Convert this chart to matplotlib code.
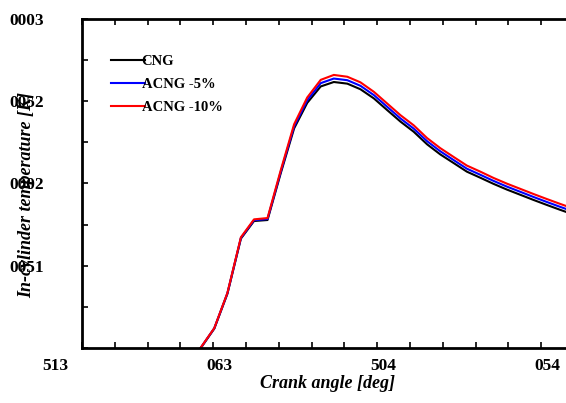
import matplotlib
matplotlib.use("Agg")
import matplotlib.pyplot as plt
from matplotlib.transforms import ScaledTranslation
from matplotlib.ticker import MultipleLocator

# ---- data ----
crank_angle = [340.3, 344.0, 347.6, 351.3, 354.9, 358.6, 362.2, 365.9, 369.5,
               373.2, 376.8, 380.5, 384.1, 387.8, 391.4, 395.1, 398.7, 402.4,
               406.0, 409.7, 413.3, 417.0, 420.6, 424.3, 427.9, 431.6, 435.2,
               438.9, 442.5, 446.2, 449.8]
temp_cng = [820, 900, 1000, 1118, 1330, 1665, 1772, 1778, 2060, 2335, 2490,
            2590, 2617, 2607, 2573, 2517, 2447, 2376, 2315, 2238, 2177, 2124,
            2072, 2035, 1998, 1963, 1932, 1900, 1870, 1840, 1812]
temp_acng5 = [820, 901, 1002, 1120, 1333, 1669, 1777, 1784, 2069, 2347, 2506,
              2610, 2638, 2628, 2594, 2537, 2467, 2395, 2334, 2257, 2196, 2142,
              2090, 2053, 2016, 1981, 1950, 1918, 1888, 1858, 1830]
temp_acng10 = [821, 902, 1003, 1121, 1335, 1673, 1782, 1790, 2078, 2360, 2523,
               2630, 2660, 2649, 2615, 2557, 2487, 2415, 2354, 2276, 2215, 2161,
               2109, 2072, 2034, 1999, 1968, 1936, 1906, 1876, 1848]
series_labels = ["CNG", "ACNG -5%", "ACNG -10%"]
series_colors = ["black", "blue", "red"]

x_ticks = [315, 360, 405, 450]
x_tick_labels = ["513", "063", "504", "054"]
y_ticks = [1000, 1500, 2000, 2500, 3000]
y_tick_labels = ["", "0051", "0002", "0052", "0003"]

# ---- figure ----
W, H = 566, 403
fig = plt.figure(figsize=(W / 100, H / 100), dpi=100)
ax_left, ax_right, ax_top, ax_bottom = 82, 574, 19, 348
ax = fig.add_axes([ax_left / W, (H - ax_bottom) / H,
                   (ax_right - ax_left) / W, (ax_bottom - ax_top) / H])

serif = ["Liberation Serif", "DejaVu Serif"]

for ys, lab, col in zip([temp_cng, temp_acng5, temp_acng10], series_labels, series_colors):
    ax.plot(crank_angle, ys, color=col, lw=1.5, label=lab)

ax.set_xlim(315, 450)
ax.set_ylim(1000, 3000)

ax.set_xticks(x_ticks)
ax.set_xticklabels(x_tick_labels, fontfamily=serif, fontweight="bold", fontsize=12.5)
ax.set_yticks(y_ticks)
ax.set_yticklabels(y_tick_labels, fontfamily=serif, fontweight="bold", fontsize=12.5)
ax.xaxis.set_minor_locator(MultipleLocator(9))
ax.yaxis.set_minor_locator(MultipleLocator(250))

ax.tick_params(which="both", direction="in", top=True, right=True, width=1.2)
ax.tick_params(which="major", length=4)
ax.tick_params(which="minor", length=4)
ax.tick_params(axis="x", pad=7)
ax.tick_params(axis="y", pad=27.5)

for s in ax.spines.values():
    s.set_linewidth(2)

# shift x tick labels left as in reference
for lbl in ax.get_xticklabels():
    lbl.set_transform(lbl.get_transform() + ScaledTranslation(-27 / 100, 0, fig.dpi_scale_trans))

ax.set_xlabel("Crank angle [deg]", fontfamily=serif, fontweight="bold",
              fontstyle="italic", fontsize=13)
ax.xaxis.set_label_coords(0.498, -0.082)
ax.set_ylabel("In-cylinder temperature [K]", fontfamily=serif, fontweight="bold",
              fontstyle="italic", fontsize=13)
ax.yaxis.set_label_coords(-0.095, 0.465)

leg = ax.legend(loc="upper left", bbox_to_anchor=((111 - 82) / 492, (348 - 55) / 329),
                frameon=False, borderpad=0, borderaxespad=0, handlelength=2.3,
                handletextpad=-0.2, labelspacing=0.68,
                prop={"family": serif, "weight": "bold", "size": 10.5})

fig.savefig("out.png", dpi=100)
